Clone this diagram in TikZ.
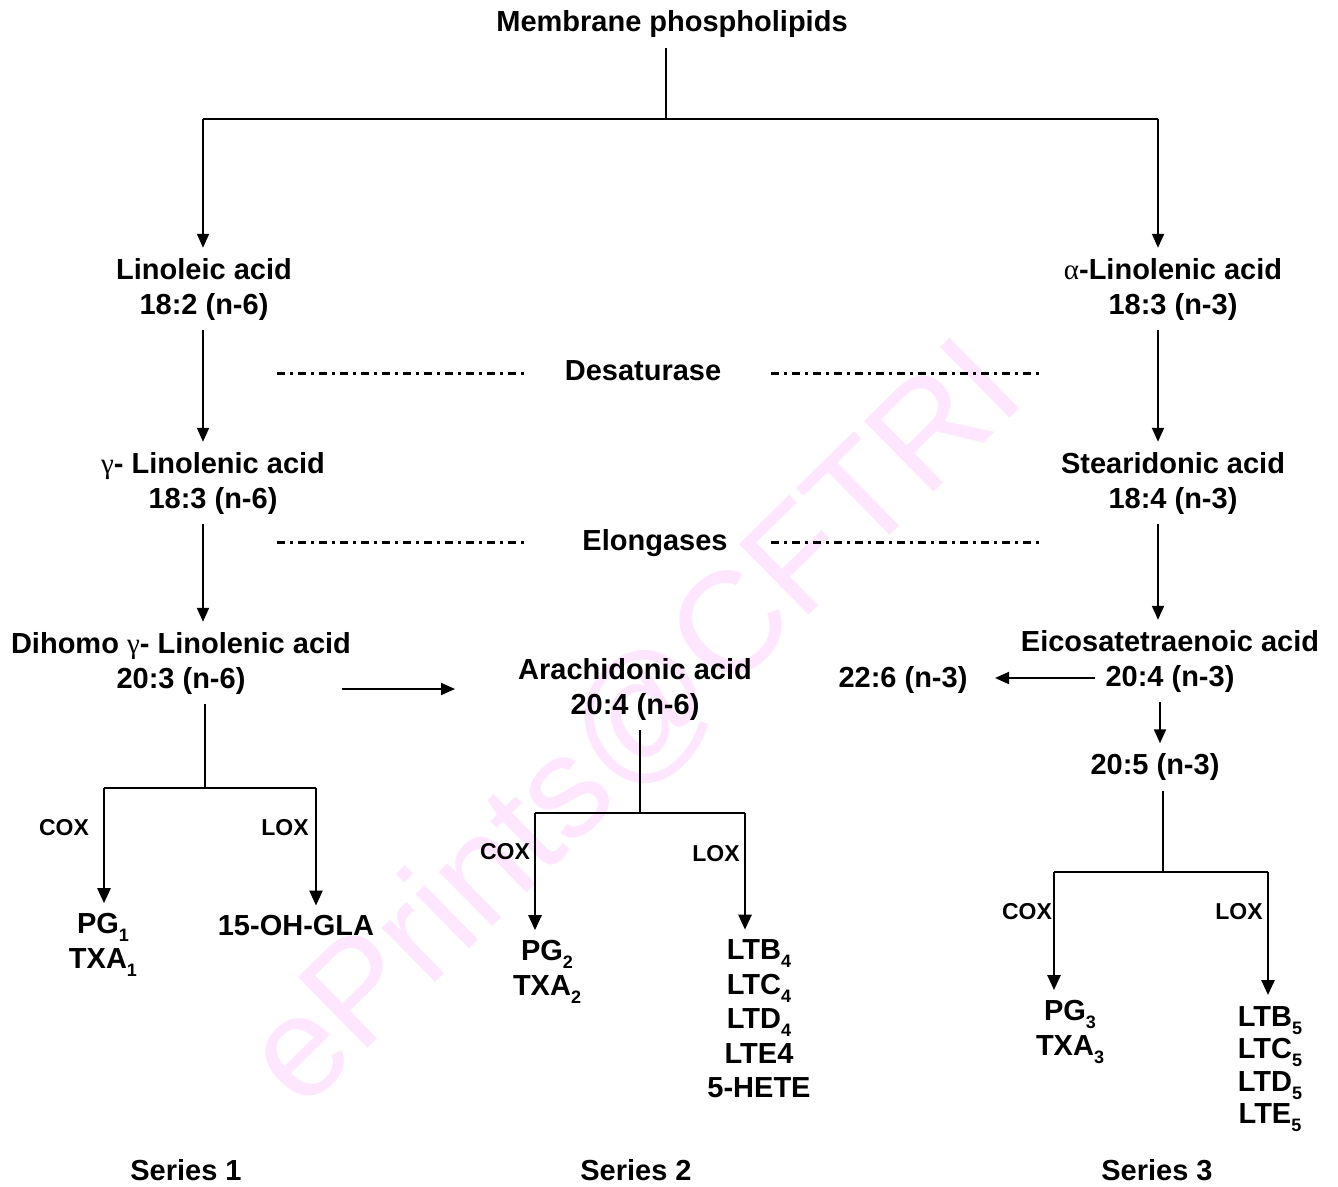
\documentclass[tikz,border=0pt]{standalone}
\usepackage{fontspec}
\setmainfont{Liberation Sans}
\newfontfamily\grk{Liberation Serif}
\usetikzlibrary{arrows.meta}
\definecolor{wm}{RGB}{255,230,255}
\newcommand\sbx[1]{\raisebox{-8pt}{\fontsize{18}{18}\selectfont #1}}
\begin{document}
\begin{tikzpicture}[x=1pt,y=-1pt,
  txt/.style={font=\fontsize{29}{35}\selectfont\bfseries, align=center, inner sep=10pt},
  lst/.style={font=\fontsize{29}{34.5}\selectfont\bfseries, align=center, inner sep=10pt},
  lab/.style={font=\fontsize{23}{28}\selectfont\bfseries, inner sep=2pt},
  stem/.style={line width=1.5pt},
  arr/.style={line width=2pt, -{Triangle[length=14pt,width=12pt]}},
  barr/.style={line width=2.6pt, -{Triangle[length=15pt,width=13pt]}},
  dd/.style={line width=3pt, dash pattern=on 8pt off 5pt on 3pt off 5pt}]
\useasboundingbox[fill=white] (0,0) rectangle (1338,1186);
% watermark
\node[rotate=44.5, text=wm, font=\fontsize{144}{144}\selectfont, inner sep=0pt] (wmk) at (636,726) {ePrints@CFTRI};
% column coordinates
\coordinate (L) at (203,0);
\coordinate (R) at (1158,0);
\coordinate (t) at (666,119);
% nodes
\node[txt] (mem) at (672,24) {Membrane phospholipids};
\node[txt] (lin) at (204,289) {Linoleic acid\\18:2 (n-6)};
\node[txt] (ala) at (1173,289) {{\grk\mdseries α}-Linolenic acid\\18:3 (n-3)};
\node[txt] (desat) at (643,371) {Desaturase};
\node[txt] (gla) at (213,483) {{\grk\mdseries γ}- Linolenic acid\\18:3 (n-6)};
\node[txt] (sda) at (1173,483) {Stearidonic acid\\18:4 (n-3)};
\node[txt] (elong) at (655,543) {Elongases};
\node[txt] (dgla) at (181,663) {Dihomo {\grk\mdseries γ}- Linolenic acid\\20:3 (n-6)};
\node[txt] (ara) at (635,689) {Arachidonic acid\\20:4 (n-6)};
\node[txt] (eta) at (1170,661) {Eicosatetraenoic acid\\20:4 (n-3)};
\node[txt] (dha) at (903,680) {22:6 (n-3)};
\node[txt] (epa) at (1155,767) {20:5 (n-3)};
\node[txt] (pg1) at (103,945) {PG\sbx{1}\\TXA\sbx{1}};
\node[txt] (ohgla) at (296,926) {15-OH-GLA};
\node[txt] (pg2) at (547,972) {PG\sbx{2}\\TXA\sbx{2}};
\node[lst] (lt4) at (759,1019) {LTB\sbx{4}\\LTC\sbx{4}\\LTD\sbx{4}\\LTE4\\5-HETE};
\node[txt] (pg3) at (1070,1032) {PG\sbx{3}\\TXA\sbx{3}};
\node[txt, font=\fontsize{29}{32.5}\selectfont\bfseries] (lt5) at (1270,1069) {LTB\sbx{5}\\LTC\sbx{5}\\LTD\sbx{5}\\LTE\sbx{5}};
\node[txt] (s1) at (186,1170) {Series 1};
\node[txt] (s2) at (636,1170) {Series 2};
\node[txt] (s3) at (1157,1170) {Series 3};
\node[lab] (cox1) at (64,828) {COX};
\node[lab] (lox1) at (285,828) {LOX};
\node[lab] (cox2) at (505,852) {COX};
\node[lab] (lox2) at (716,854) {LOX};
\node[lab] (cox3) at (1027,912) {COX};
\node[lab] (lox3) at (1239,912) {LOX};
% top tree
\draw[stem] (mem.south -| t) -- (t);
\draw[stem] (L |- t) -- (R |- t);
\draw[arr] (L |- t) -- (lin.north -| L);
\draw[arr] (R |- t) -- (ala.north -| R);
% main columns
\draw[arr] (lin.south -| L) -- (gla.north -| L);
\draw[arr] (gla.south -| L) -- (dgla.north -| L);
\draw[arr] (ala.south -| R) -- (sda.north -| R);
\draw[arr] (sda.south -| R) -- (eta.north -| R);
% enzyme dash-dot lines
\coordinate (d1a) at (277,373); \coordinate (d1b) at (528,373);
\coordinate (d2a) at (771,373); \coordinate (d2b) at (1040,373);
\coordinate (e1a) at (277,542); \coordinate (e1b) at (528,542);
\coordinate (e2a) at (771,542); \coordinate (e2b) at (1040,542);
\draw[dd] (d1a) -- (d1b);
\draw[dd] (d2a) -- (d2b);
\draw[dd] (e1a) -- (e1b);
\draw[dd] (e2a) -- (e2b);
% horizontal arrows
\coordinate (h1s) at (342,689); \coordinate (h1e) at (455,689);
\draw[arr] (h1s) -- (h1e);
\coordinate (h2s) at (1095,678); \coordinate (h2e) at (995,678);
\draw[arr] (h2s) -- (h2e);
\coordinate (c5) at (1160,0);
\draw[arr] (eta.south -| c5) -- (epa.north -| c5);
% series 1
\coordinate (b1) at (205,788); \coordinate (b1l) at (104,788); \coordinate (b1r) at (316,788);
\draw[stem] (dgla.south -| b1) -- (b1);
\draw[stem] (b1l) -- (b1r);
\draw[barr] (b1l) -- (pg1.north -| b1l);
\draw[barr] (b1r) -- (ohgla.north -| b1r);
% series 2
\coordinate (b2) at (640,813); \coordinate (b2l) at (535,813); \coordinate (b2r) at (745,813);
\draw[stem] (ara.south -| b2) -- (b2);
\draw[stem] (b2l) -- (b2r);
\draw[barr] (b2l) -- (pg2.north -| b2l);
\draw[barr] (b2r) -- (lt4.north -| b2r);
% series 3
\coordinate (b3) at (1163,872); \coordinate (b3l) at (1054,872); \coordinate (b3r) at (1268,872);
\draw[stem] (epa.south -| b3) -- (b3);
\draw[stem] (b3l) -- (b3r);
\draw[barr] (b3l) -- (pg3.north -| b3l);
\draw[barr] (b3r) -- (b3r |- 0,995);
\end{tikzpicture}
\end{document}
